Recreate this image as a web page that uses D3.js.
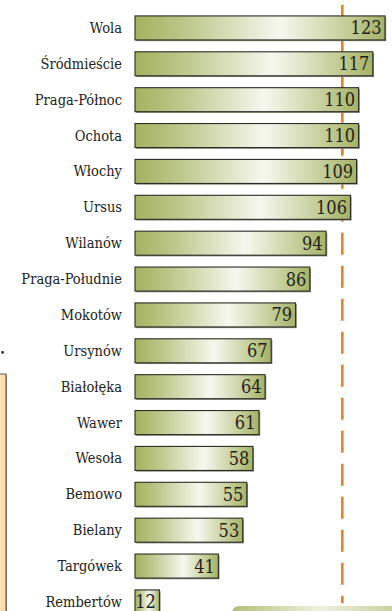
<!DOCTYPE html>
<html><head><meta charset="utf-8">
<script src="https://cdn.jsdelivr.net/npm/d3@7"></script>
<style>html,body{margin:0;padding:0;background:#fff;}svg{display:block;}
text{font-family:"DejaVu Serif Condensed","DejaVu Serif",serif;font-stretch:condensed;}</style>
</head><body>
<script>
const categories = ["Wola","Śródmieście","Praga-Północ","Ochota","Włochy","Ursus","Wilanów","Praga-Południe","Mokotów","Ursynów","Białołęka","Wawer","Wesoła","Bemowo","Bielany","Targówek","Rembertów"];
const values = [123,117,110,110,109,106,94,86,79,67,64,61,58,55,53,41,12];
const referenceValue = [102];

const W = 392, H = 611;
const svg = d3.select("body").append("svg").attr("width", W).attr("height", H);
const defs = svg.append("defs");

const g1 = defs.append("linearGradient").attr("id","barGrad").attr("x1","0").attr("x2","1").attr("y1","0").attr("y2","0");
g1.append("stop").attr("offset","0").attr("stop-color","#a4b25f");
g1.append("stop").attr("offset","0.2").attr("stop-color","#bcc78a");
g1.append("stop").attr("offset","0.58").attr("stop-color","#f6f8ef");
g1.append("stop").attr("offset","0.85").attr("stop-color","#c4cd97");
g1.append("stop").attr("offset","1").attr("stop-color","#a5b265");

const pg = defs.append("linearGradient").attr("id","peach").attr("x1","0").attr("x2","1");
pg.append("stop").attr("offset","0").attr("stop-color","#fff1d8");
pg.append("stop").attr("offset","1").attr("stop-color","#fbd9a2");

const bg = defs.append("linearGradient").attr("id","bottomGrad").attr("x1","0").attr("x2","1");
bg.append("stop").attr("offset","0").attr("stop-color","#b3bf78");
bg.append("stop").attr("offset","0.5").attr("stop-color","#eef1e0");
bg.append("stop").attr("offset","1").attr("stop-color","#c3cc95");

const x = d3.scaleLinear().domain([0,123]).range([135,385]);
const y = d3.scaleBand().domain(categories).range([10, 10 + 17*35.875]).paddingInner(0.33).paddingOuter(0.165);

// side fragments
svg.append("rect").attr("x",-10).attr("y",375).attr("width",17).attr("height",260).attr("fill","#9a9080");
svg.append("rect").attr("x",-10).attr("y",374).attr("width",16).attr("height",260).attr("fill","url(#peach)").attr("stroke","#5a5246").attr("stroke-width",1);
svg.append("text").attr("x",0).attr("y",354).attr("font-size",16).attr("font-weight","bold").attr("fill","#333").text(".");
svg.append("rect").attr("x",232).attr("y",606).attr("width",175).attr("height",20).attr("rx",7).attr("fill","url(#bottomGrad)");

// reference line
svg.append("line").attr("x1", x(referenceValue[0])).attr("x2", x(referenceValue[0]))
  .attr("y1",5).attr("y2",603).attr("stroke","#ee7f22").attr("stroke-width",2.6)
  .attr("stroke-dasharray","22 11").attr("stroke-dashoffset",3.3);

const rows = svg.selectAll("g.row").data(categories.map((c,i)=>({c, v: values[i]}))).enter().append("g").attr("class","row");

rows.append("rect").attr("x", x(0)+1.2).attr("y", d=>y(d.c)+1.2)
  .attr("width", d=>x(d.v)-x(0)).attr("height", y.bandwidth()).attr("fill","#8a8a7a");
rows.append("rect").attr("x", x(0)).attr("y", d=>y(d.c))
  .attr("width", d=>x(d.v)-x(0)).attr("height", y.bandwidth())
  .attr("fill","url(#barGrad)").attr("stroke","#2c2c28").attr("stroke-width",1.1);

rows.append("text").attr("x",122).attr("y", d=>y(d.c)+y.bandwidth()/2+5)
  .attr("text-anchor","end").attr("font-size",14.5).attr("fill","#222")
  .text(d=>d.c);
rows.append("text").attr("x", d=>x(d.v)-3.5).attr("y", d=>y(d.c)+y.bandwidth()/2+6.5)
  .attr("text-anchor","end").attr("font-size",18).attr("fill","#1e1e1e")
  .text(d=>d.v);
</script>
</body></html>
